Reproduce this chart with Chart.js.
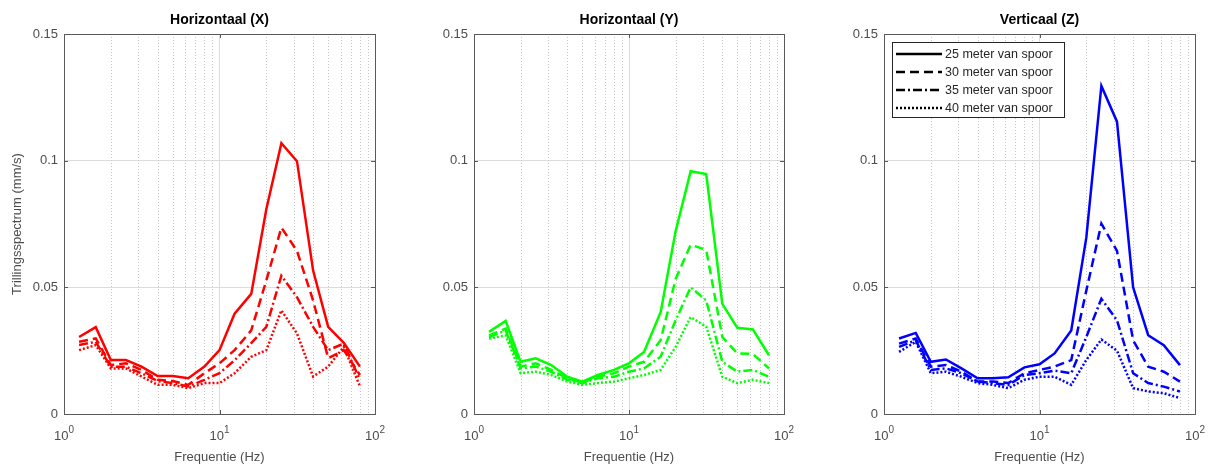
<!DOCTYPE html>
<html>
<head>
<meta charset="utf-8">
<script src="https://cdn.jsdelivr.net/npm/chart.js@4.4.1/dist/chart.umd.min.js"></script>
<style>
html,body{margin:0;padding:0;background:#fff;}
#wrap{position:relative;width:1213px;height:466px;overflow:hidden;}
canvas{position:absolute;top:0;}
</style>
</head>
<body>
<div id="wrap">
<canvas id="cx" width="404" height="466" style="left:0px"></canvas>
<canvas id="cy" width="404" height="466" style="left:404px"></canvas>
<canvas id="cz" width="405" height="466" style="left:808px"></canvas>
</div>
<script>
// third-octave band centre frequencies (Hz)
const freq = [1.25,1.6,2,2.5,3.15,4,5,6.3,8,10,12.5,16,20,25,31.5,40,50,63,80];

const afstanden = ["25 meter van spoor","30 meter van spoor","35 meter van spoor","40 meter van spoor"];
const titels = ["Horizontaal (X)","Horizontaal (Y)","Verticaal (Z)"];

// Horizontaal (X)
const x25 = [0.0304,0.0343,0.0213,0.0213,0.0187,0.0150,0.0150,0.0141,0.0187,0.0252,0.0396,0.0474,0.0808,0.1069,0.0998,0.0566,0.0344,0.0281,0.0187];
const x30 = [0.0285,0.0298,0.0193,0.0200,0.0174,0.0135,0.0130,0.0115,0.0161,0.0200,0.0252,0.0330,0.0527,0.0736,0.0644,0.0448,0.0220,0.0252,0.0154];
const x35 = [0.0272,0.0285,0.0187,0.0187,0.0161,0.0130,0.0122,0.0109,0.0135,0.0161,0.0212,0.0280,0.0344,0.0546,0.0461,0.0344,0.0252,0.0278,0.0135];
const x40 = [0.0252,0.0272,0.0180,0.0180,0.0148,0.0115,0.0115,0.0102,0.0122,0.0122,0.0161,0.0226,0.0252,0.0409,0.0318,0.0148,0.0187,0.0265,0.0109];

// Horizontaal (Y)
const y25 = [0.0324,0.0367,0.0206,0.0220,0.0193,0.0147,0.0128,0.0154,0.0174,0.0200,0.0245,0.0402,0.0722,0.0958,0.0947,0.0435,0.0340,0.0334,0.0232];
const y30 = [0.0310,0.0337,0.0187,0.0200,0.0174,0.0141,0.0124,0.0147,0.0161,0.0187,0.0206,0.0291,0.0533,0.0668,0.0648,0.0304,0.0239,0.0237,0.0180];
const y35 = [0.0304,0.0330,0.0180,0.0187,0.0167,0.0135,0.0122,0.0141,0.0147,0.0167,0.0180,0.0226,0.0370,0.0500,0.0448,0.0206,0.0167,0.0174,0.0147];
const y40 = [0.0298,0.0310,0.0161,0.0167,0.0154,0.0128,0.0115,0.0122,0.0128,0.0141,0.0154,0.0174,0.0265,0.0383,0.0344,0.0147,0.0122,0.0135,0.0122];

// Verticaal (Z)
const z25 = [0.0298,0.0320,0.0206,0.0215,0.0180,0.0141,0.0141,0.0145,0.0184,0.0196,0.0239,0.0330,0.0696,0.1295,0.1154,0.0500,0.0311,0.0272,0.0193];
const z30 = [0.0278,0.0298,0.0187,0.0193,0.0167,0.0128,0.0128,0.0122,0.0161,0.0174,0.0187,0.0213,0.0487,0.0751,0.0644,0.0291,0.0187,0.0167,0.0128];
const z35 = [0.0265,0.0291,0.0174,0.0180,0.0161,0.0128,0.0122,0.0115,0.0154,0.0161,0.0171,0.0161,0.0304,0.0455,0.0370,0.0161,0.0122,0.0108,0.0089];
const z40 = [0.0245,0.0285,0.0161,0.0167,0.0147,0.0122,0.0115,0.0102,0.0135,0.0147,0.0147,0.0115,0.0213,0.0294,0.0250,0.0102,0.0089,0.0082,0.0063];

const yTicks = [0,0.05,0.1,0.15];
const xMajor = [1,10,100];
const xMinor = [2,3,4,5,6,7,8,9,20,30,40,50,60,70,80,90];

const dashes = [[], [9,5], [9,3,2,3], [2,2]];
const FONT = "'Liberation Sans', Arial, sans-serif";

function matlabAxes(titel, legenda){
  return {
    id: 'matlabAxes',
    beforeDatasetsDraw(chart){
      const ctx = chart.ctx, a = chart.chartArea, xs = chart.scales.x;
      ctx.save();
      ctx.strokeStyle = '#c8c8c8';
      ctx.lineWidth = 1;
      ctx.setLineDash([1,2]);
      xMinor.forEach(v => {
        const px = Math.round(xs.getPixelForValue(v)) + 0.5;
        ctx.beginPath();
        ctx.moveTo(px, a.top);
        ctx.lineTo(px, a.bottom);
        ctx.stroke();
      });
      ctx.restore();
    },
    afterDraw(chart){
      const ctx = chart.ctx, a = chart.chartArea, xs = chart.scales.x, ys = chart.scales.y;
      ctx.save();
      // box
      ctx.strokeStyle = '#5a5a5a';
      ctx.lineWidth = 1;
      ctx.strokeRect(Math.round(a.left)+0.5, Math.round(a.top)+0.5, Math.round(a.right-a.left), Math.round(a.bottom-a.top));
      // inward ticks
      ctx.beginPath();
      xMajor.forEach(v => {
        const px = Math.round(xs.getPixelForValue(v)) + 0.5;
        ctx.moveTo(px, a.bottom); ctx.lineTo(px, a.bottom-4);
        ctx.moveTo(px, a.top); ctx.lineTo(px, a.top+4);
      });
      yTicks.forEach(v => {
        const py = Math.round(ys.getPixelForValue(v)) + 0.5;
        ctx.moveTo(a.left, py); ctx.lineTo(a.left+4, py);
        ctx.moveTo(a.right, py); ctx.lineTo(a.right-4, py);
      });
      ctx.stroke();
      // x tick labels 10^n
      ctx.fillStyle = '#4d4d4d';
      xMajor.forEach((v,i) => {
        const px = xs.getPixelForValue(v);
        ctx.font = '13px ' + FONT;
        const w1 = ctx.measureText('10').width;
        ctx.font = '10px ' + FONT;
        const w2 = ctx.measureText(String(i)).width;
        const x0 = px - (w1 + w2) / 2;
        ctx.textBaseline = 'alphabetic';
        ctx.textAlign = 'left';
        ctx.font = '13px ' + FONT;
        ctx.fillText('10', x0, a.bottom + 26);
        ctx.font = '10px ' + FONT;
        ctx.fillText(String(i), x0 + w1, a.bottom + 19);
      });
      // title
      ctx.fillStyle = '#000';
      ctx.font = 'bold 14px ' + FONT;
      ctx.textAlign = 'center';
      ctx.textBaseline = 'middle';
      ctx.fillText(titel, (a.left + a.right) / 2, 20);
      // legend
      if (legenda){
        const lx = a.left + 8, ly = a.top + 8;
        ctx.fillStyle = '#fff';
        ctx.fillRect(lx, ly, 172, 75);
        ctx.strokeStyle = '#262626';
        ctx.lineWidth = 1;
        ctx.setLineDash([]);
        ctx.strokeRect(lx + 0.5, ly + 0.5, 172, 75);
        afstanden.forEach((t,i) => {
          const yy = ly + 12 + i * 18;
          ctx.strokeStyle = '#000';
          ctx.lineWidth = 2.5;
          ctx.setLineDash(dashes[i]);
          ctx.beginPath();
          ctx.moveTo(lx + 4, yy);
          ctx.lineTo(lx + 50, yy);
          ctx.stroke();
          ctx.setLineDash([]);
          ctx.fillStyle = '#262626';
          ctx.font = '12.5px ' + FONT;
          ctx.textAlign = 'left';
          ctx.textBaseline = 'middle';
          ctx.fillText(t, lx + 53, yy + 1);
        });
      }
      ctx.restore();
    }
  };
}

function maakGrafiek(id, titel, reeksen, kleur, links, rechts, yTitel, legenda){
  const datasets = reeksen.map((r,i) => ({
    label: afstanden[i],
    data: freq.map((f,j) => ({x: f, y: r[j]})),
    borderColor: kleur,
    borderWidth: 2.5,
    borderDash: dashes[i],
    pointRadius: 0,
    fill: false,
    tension: 0
  }));
  return new Chart(document.getElementById(id), {
    type: 'line',
    data: { datasets },
    options: {
      responsive: false,
      devicePixelRatio: 1,
      animation: false,
      layout: { padding: { left: 0, right: rechts, top: 34, bottom: 0 } },
      plugins: { legend: { display: false }, title: { display: false }, tooltip: { enabled: false } },
      scales: {
        x: {
          type: 'logarithmic',
          min: 1, max: 100,
          afterBuildTicks: s => { s.ticks = xMajor.map(v => ({value: v})); },
          afterFit: s => { s.height = 52; },
          ticks: { display: false },
          grid: { color: '#dcdcdc', lineWidth: 1, drawTicks: false },
          border: { display: false },
          title: { display: true, text: 'Frequentie (Hz)', color: '#4d4d4d',
                   font: { family: FONT, size: 13 }, padding: { top: 0, bottom: 1 } }
        },
        y: {
          min: 0, max: 0.15,
          afterBuildTicks: s => { s.ticks = yTicks.map(v => ({value: v})); },
          afterFit: s => { s.width = links; },
          ticks: { color: '#4d4d4d', font: { family: FONT, size: 13 }, padding: 6,
                   callback: v => String(+v.toFixed(2)) },
          grid: { color: '#dcdcdc', lineWidth: 1, drawTicks: false },
          border: { display: false },
          title: { display: yTitel, text: 'Trillingsspectrum (mm/s)', color: '#4d4d4d',
                   font: { family: FONT, size: 13 }, padding: { top: 10, bottom: 0 } }
        }
      }
    },
    plugins: [matlabAxes(titel, legenda)]
  });
}

maakGrafiek('cx', titels[0], [x25,x30,x35,x40], '#ff0000', 64, 29, true, false);
maakGrafiek('cy', titels[1], [y25,y30,y35,y40], '#00ff00', 70, 24, false, false);
maakGrafiek('cz', titels[2], [z25,z30,z35,z40], '#0000ff', 76, 18, false, true);
</script>
</body>
</html>
